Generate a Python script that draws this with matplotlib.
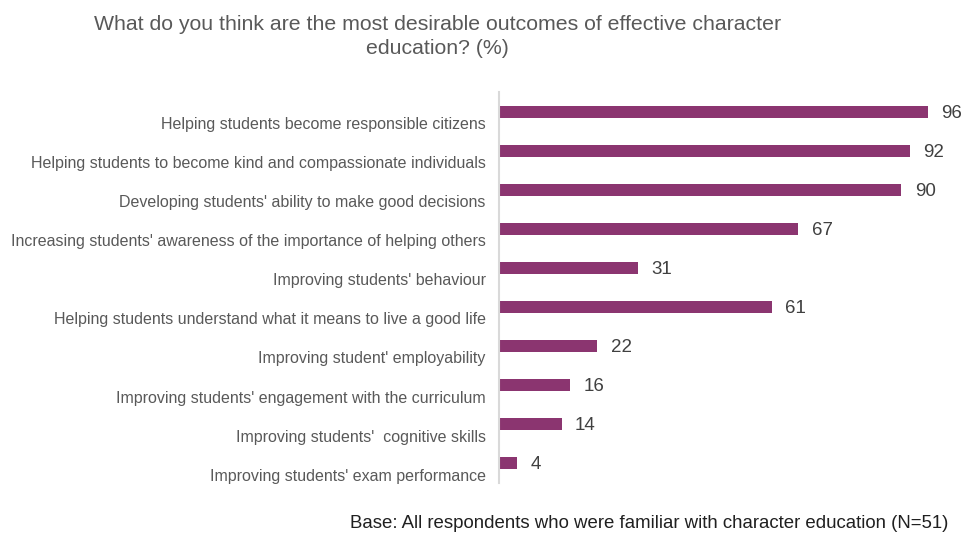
import matplotlib
matplotlib.use('agg')
import matplotlib.pyplot as plt
import numpy as np

plt.rcParams['font.family'] = ['Liberation Sans', 'DejaVu Sans']

outcomes = [
    'Helping students become responsible citizens',
    'Helping students to become kind and compassionate individuals',
    "Developing students' ability to make good decisions",
    "Increasing students' awareness of the importance of helping others",
    "Improving students' behaviour",
    'Helping students understand what it means to live a good life',
    "Improving student' employability",
    "Improving students' engagement with the curriculum",
    "Improving students'  cognitive skills",
    "Improving students' exam performance",
]
percent = [96, 92, 90, 67, 31, 61, 22, 16, 14, 4]

bar_color = '#8B3570'
text_color = '#595959'

fig = plt.figure(figsize=(9.64, 5.33), dpi=100)
ax = fig.add_axes([0.5176, 0.094, 0.4637, 0.733])

y = np.arange(len(outcomes))
ax.barh(y, percent, height=0.31, color=bar_color)

for yi, v in zip(y, percent):
    ax.text(v + 3.0, yi + 0.04, str(v), va='center', ha='left',
            fontsize=13.5, color='#404040')

ax.set_xlim(0, 100)
ax.set_ylim(len(outcomes) - 0.5, -0.5)
# category labels sit a little below their bars
ax.set_yticks(y + 0.29)
ax.set_yticklabels(outcomes, fontsize=11.5, color=text_color)
ax.tick_params(axis='y', length=0, pad=9.5)
ax.set_xticks([])

for side in ['top', 'right', 'bottom']:
    ax.spines[side].set_visible(False)
ax.spines['left'].set_color('#d9d9d9')
ax.spines['left'].set_linewidth(1.5)

fig.text(0.454, 0.932,
         'What do you think are the most desirable outcomes of effective character\neducation? (%)',
         ha='center', va='center', fontsize=15.3, color=text_color,
         linespacing=1.32)

fig.text(0.984, 0.017,
         'Base: All respondents who were familiar with character education (N=51)',
         ha='right', va='center', fontsize=13.4, color='#202020')

fig.savefig('out.png', dpi=100)
